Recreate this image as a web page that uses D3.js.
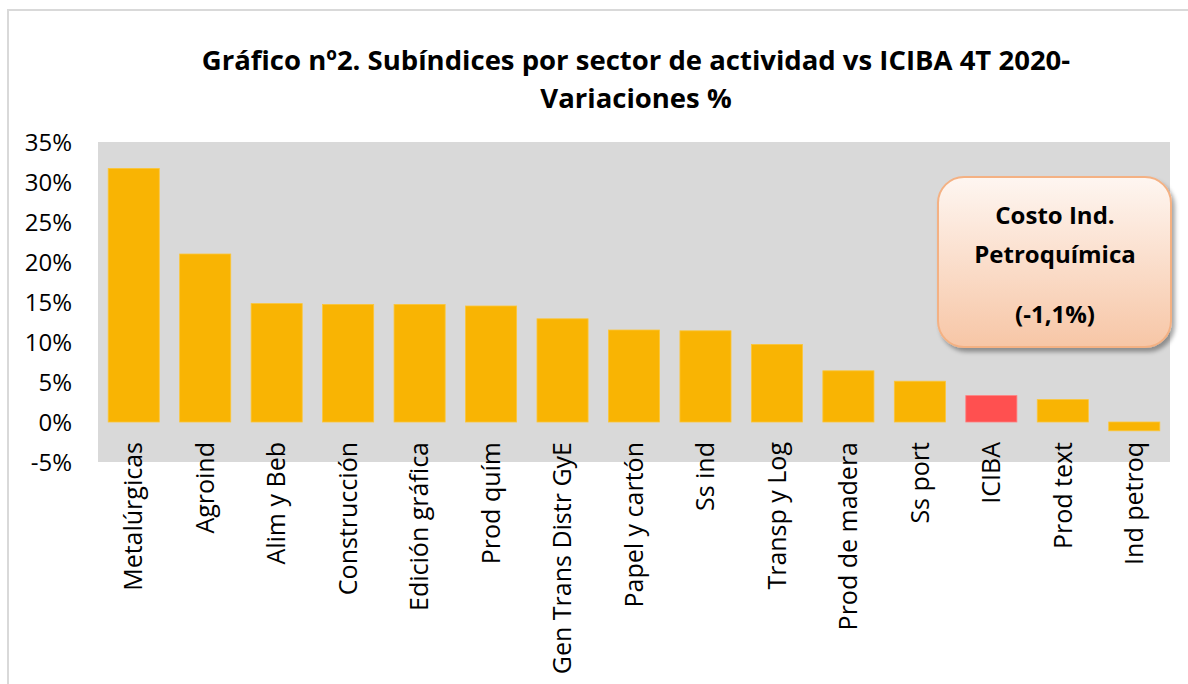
<!DOCTYPE html>
<html><head><meta charset="utf-8">
<script src="https://cdn.jsdelivr.net/npm/d3@7"></script>
<style>body{margin:0;background:#fff;}svg{display:block;}</style>
</head><body>
<svg id="c" width="1188" height="684"></svg>
<script>
const categories = ["Metalúrgicas","Agroind","Alim y Beb","Construcción","Edición gráfica","Prod quím","Gen Trans Distr GyE","Papel y cartón","Ss ind","Transp y Log","Prod de madera","Ss port","ICIBA","Prod text","Ind petroq"];
const values = [31.7, 21.0, 14.8, 14.7, 14.7, 14.5, 12.9, 11.5, 11.4, 9.7, 6.4, 5.1, 3.3, 2.8, -1.1];
const highlight = ["ICIBA"];
const yTicks = [-5, 0, 5, 10, 15, 20, 25, 30, 35];
const titleLines = ["Gráfico nº2. Subíndices por sector de actividad vs ICIBA 4T 2020-", "Variaciones %"];
const calloutLines = ["Costo Ind.", "Petroquímica", "(-1,1%)"];

const svg = d3.select("#c");
const font = "'Open Sans', 'Liberation Sans', sans-serif";

// outer frame
svg.append("path").attr("d","M8,684 V10 H1188").attr("fill","none").attr("stroke","#d9d9d9").attr("stroke-width",2);

const x0 = 98, x1 = 1170, y0 = 142, y1 = 462;
const x = d3.scaleBand().domain(categories).range([x0, x1]).paddingInner(0.285).paddingOuter(0.1425);
const y = d3.scaleLinear().domain([-5, 35]).range([y1, y0]);

svg.append("rect").attr("x", x0).attr("y", y0).attr("width", x1 - x0).attr("height", y1 - y0).attr("fill", "#d9d9d9");

// title
svg.append("g").selectAll("text").data(titleLines).join("text")
  .attr("x", 636).attr("y", (d,i) => 70 + i*38)
  .attr("text-anchor","middle").attr("font-family", font).attr("font-weight","bold")
  .attr("font-size", 27.5).attr("fill","#000").text(d => d);

// bars
svg.append("g").selectAll("rect").data(categories).join("rect")
  .attr("x", d => x(d))
  .attr("width", x.bandwidth())
  .attr("y", (d,i) => y(Math.max(0, values[i])))
  .attr("height", (d,i) => Math.abs(y(values[i]) - y(0)))
  .attr("fill", d => highlight.includes(d) ? "#ff5050" : "#f9b403")
  .attr("stroke", d => highlight.includes(d) ? "#ff8080" : "#fcc63a").attr("stroke-width", 0.8);

// y axis
const yAxis = d3.axisLeft(y).tickValues(yTicks).tickFormat(d => d + "%").tickSize(0).tickPadding(0);
const gy = svg.append("g").attr("transform", `translate(${72},0)`).call(yAxis);
gy.select(".domain").remove();
gy.selectAll("text").attr("font-family", font).attr("font-size", 24).attr("fill", "#000").attr("dy","0.35em");

// x axis
const xAxis = d3.axisBottom(x).tickSize(0).tickPadding(0);
const gx = svg.append("g").attr("transform", `translate(0,${y1})`).call(xAxis);
gx.select(".domain").remove();
gx.selectAll("text").attr("font-family", font).attr("font-size", 25).attr("fill", "#000")
  .attr("text-anchor","end").attr("transform","rotate(-90)")
  .attr("x", 20).attr("y", 0).attr("dy","0.35em");

// callout
const defs = svg.append("defs");
const grad = defs.append("linearGradient").attr("id","pg").attr("x1",0).attr("x2",0).attr("y1",0).attr("y2",1);
grad.append("stop").attr("offset","0%").attr("stop-color","#fef6f1");
grad.append("stop").attr("offset","100%").attr("stop-color","#f7c6a6");
const f = defs.append("filter").attr("id","sh").attr("x","-10%").attr("y","-10%").attr("width","130%").attr("height","130%");
f.append("feDropShadow").attr("dx",3).attr("dy",4).attr("stdDeviation",2).attr("flood-color","#000").attr("flood-opacity",0.35);
svg.append("rect").attr("x",938).attr("y",177).attr("width",233).attr("height",170).attr("rx",26)
  .attr("fill","url(#pg)").attr("stroke","#f4b183").attr("stroke-width",2).attr("filter","url(#sh)");
svg.append("g").selectAll("text").data(calloutLines).join("text")
  .attr("x", 1055).attr("y", (d,i) => [224, 263, 323][i])
  .attr("text-anchor","middle").attr("font-family", font).attr("font-weight","bold")
  .attr("font-size", 24).attr("fill","#000").text(d => d);
</script>
</body></html>
